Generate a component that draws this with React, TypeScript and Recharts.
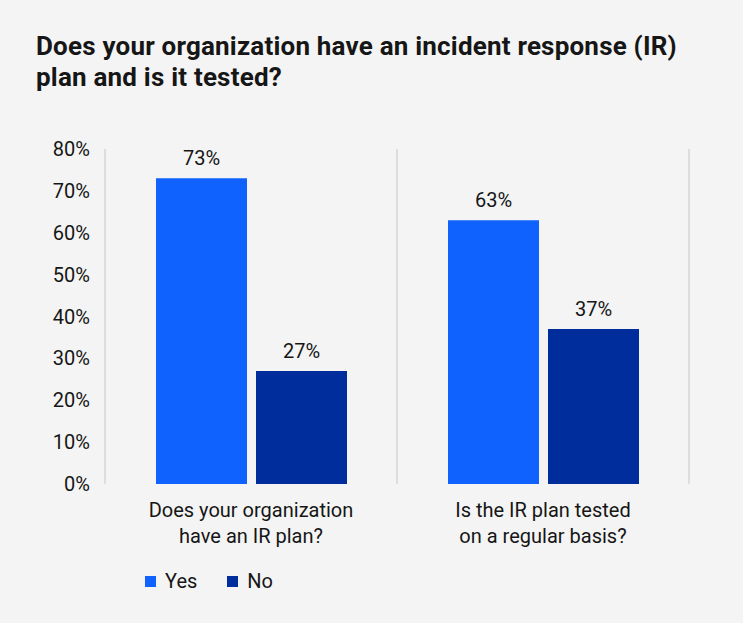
import { BarChart, Bar, XAxis, YAxis, CartesianGrid, LabelList } from "recharts";

const titleLines = ["Does your organization have an incident response (IR)", "plan and is it tested?"];
const categories = ["Does your organization\nhave an IR plan?", "Is the IR plan tested\non a regular basis?"];
const yesValues = [73, 63];
const noValues = [27, 37];
const yTicks = [0, 10, 20, 30, 40, 50, 60, 70, 80];
const legendItems = ["Yes", "No"];

const YES_COLOR = "#0f62fe";
const NO_COLOR = "#002d9c";
const TEXT = "#161616";
const GRID = "#c6c6c6";

const data = categories.map((name, i) => ({ name, yes: yesValues[i], no: noValues[i] }));

function CategoryTick(props: any) {
  const { x, y, payload } = props;
  const lines = String(payload.value).split("\n");
  return (
    <g>
      {lines.map((line, i) => (
        <text key={i} x={x} y={y + 33 + i * 26} textAnchor="middle" fill={TEXT} fontSize={20}>
          {line}
        </text>
      ))}
    </g>
  );
}

// legend kept outside the chart so it doesn't eat into the plot height
function ChartLegend() {
  const colors = [YES_COLOR, NO_COLOR];
  return (
    <div style={{ position: "absolute", left: 145, top: 569, display: "flex", alignItems: "center", fontSize: 20, lineHeight: "24px" }}>
      {legendItems.map((label, i) => (
        <div key={label} style={{ display: "flex", alignItems: "center", marginRight: 30 }}>
          <span style={{ width: 11, height: 11, background: colors[i], display: "inline-block", marginRight: 9 }} />
          <span>{label}</span>
        </div>
      ))}
    </div>
  );
}

export default function App() {
  return (
    <div
      style={{
        position: "absolute",
        top: 0,
        left: 0,
        width: 743,
        height: 623,
        background: "#f4f4f4",
        fontFamily: "Roboto, sans-serif",
        color: TEXT,
      }}
    >
      <div
        style={{
          position: "absolute",
          left: 36,
          top: 31,
          fontSize: 26,
          fontWeight: 700,
          lineHeight: "31px",
          whiteSpace: "nowrap",
          letterSpacing: 0.2,
        }}
      >
        {titleLines.map((l) => (
          <div key={l}>{l}</div>
        ))}
      </div>
      <BarChart
        width={743}
        height={623}
        data={data}
        margin={{ top: 149, right: 54, left: 0, bottom: 39 }}
        barSize={91}
        barGap={9}
        style={{ position: "absolute", top: 0, left: 0 }}
      >
        <CartesianGrid
          horizontal={false}
          stroke={GRID}
          verticalCoordinatesGenerator={({ offset }: any) => [
            offset.left + offset.width / 2,
            offset.left + offset.width,
          ]}
        />
        <XAxis
          dataKey="name"
          axisLine={false}
          tickLine={false}
          tickSize={0}
          tickMargin={0}
          height={100}
          interval={0}
          tick={<CategoryTick />}
        />
        <YAxis
          width={105}
          domain={[0, 80]}
          ticks={yTicks}
          tickFormatter={(v) => `${v}%`}
          axisLine={{ stroke: GRID }}
          tickLine={false}
          tickSize={0}
          tickMargin={15}
          tick={{ fill: TEXT, fontSize: 20 }}
        />
        <Bar dataKey="yes" name="Yes" fill={YES_COLOR} isAnimationActive={false}>
          <LabelList dataKey="yes" position="top" offset={13} formatter={(v: any) => `${v}%`} fill={TEXT} fontSize={20} />
        </Bar>
        <Bar dataKey="no" name="No" fill={NO_COLOR} isAnimationActive={false}>
          <LabelList dataKey="no" position="top" offset={13} formatter={(v: any) => `${v}%`} fill={TEXT} fontSize={20} />
        </Bar>
      </BarChart>
      <ChartLegend />
    </div>
  );
}
